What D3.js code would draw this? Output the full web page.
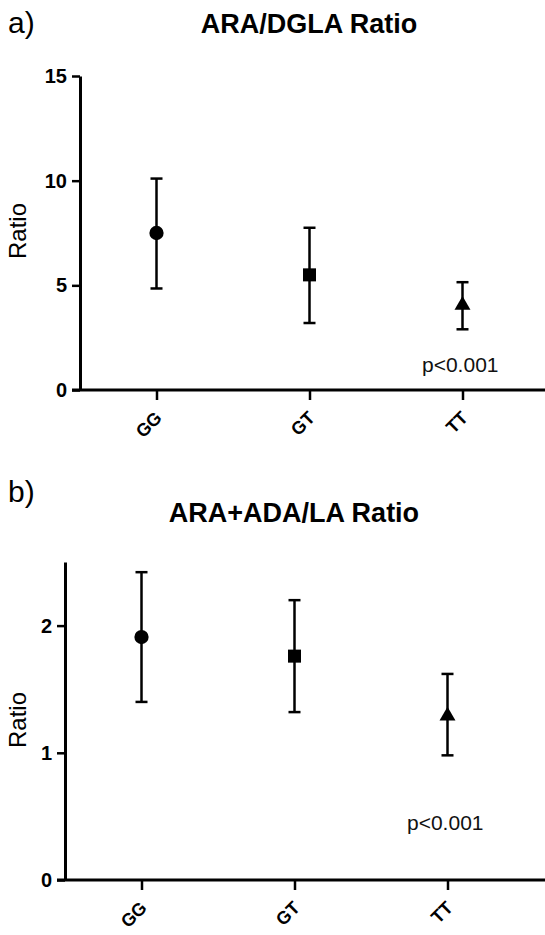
<!DOCTYPE html>
<html><head><meta charset="utf-8">
<script src="https://cdn.jsdelivr.net/npm/d3@7"></script>
<style>
html,body{margin:0;padding:0;background:#fff;}
svg{display:block;}
</style></head>
<body>
<svg id="c" width="545" height="935"></svg>
<script>
const categories = ["GG", "GT", "TT"];
const markers = ["circle", "square", "triangle"];
// Panel a: ARA/DGLA Ratio
const aMean  = [7.5, 5.5, 4.05];
const aUpper = [10.1, 7.75, 5.15];
const aLower = [4.85, 3.2, 2.9];
const aTicks = [0, 5, 10, 15];
// Panel b: ARA+ADA/LA Ratio
const bMean  = [1.91, 1.76, 1.29];
const bUpper = [2.42, 2.20, 1.62];
const bLower = [1.40, 1.32, 0.98];
const bTicks = [0, 1, 2];
const pText = "p<0.001";

const svg = d3.select("#c");
const FONT = "'Liberation Sans', Arial, Helvetica, sans-serif";

function panel(o) {
  const g = svg.append("g");
  const y = d3.scaleLinear().domain([0, o.ymax]).range([o.y0, o.ytop]);
  const x = d3.scalePoint().domain(categories).range([o.x0, o.x0 + 459]).padding(0.5);

  g.append("text").attr("x", 8).attr("y", o.letterY).text(o.letter)
    .attr("font-family", FONT).attr("font-size", 30).attr("fill", "#000");
  g.append("text").attr("x", o.x0 + 229).attr("y", o.titleY).text(o.title)
    .attr("text-anchor", "middle").attr("font-family", FONT).attr("font-weight", "bold")
    .attr("font-size", 27).attr("fill", "#000");

  const ya = g.append("g").attr("transform", `translate(${o.x0},0)`)
    .call(d3.axisLeft(y).tickValues(o.ticks).tickFormat(d3.format("d")).tickSize(8).tickSizeOuter(0).tickPadding(5));
  ya.select(".domain").attr("stroke-width", 3).attr("stroke", "#000");
  ya.selectAll(".tick line").attr("stroke-width", 2.5).attr("stroke", "#000");
  ya.selectAll(".tick text").attr("font-family", FONT).attr("font-weight", "bold")
    .attr("font-size", 20).attr("fill", "#000");

  const xa = g.append("g").attr("transform", `translate(0,${o.y0})`)
    .call(d3.axisBottom(x).tickSize(10).tickSizeOuter(0));
  xa.select(".domain").remove();
  xa.selectAll(".tick line").attr("stroke-width", 2.5).attr("stroke", "#000");
  xa.selectAll(".tick text").attr("font-family", FONT).attr("font-weight", "bold")
    .attr("font-size", 18).attr("fill", "#000")
    .attr("text-anchor", "end").attr("dy", 0).attr("y", 0)
    .attr("transform", "translate(6,29) rotate(-45)");
  g.append("line").attr("x1", o.x0 - 8).attr("x2", 545).attr("y1", o.y0).attr("y2", o.y0)
    .attr("stroke", "#000").attr("stroke-width", 3);

  g.append("text").attr("transform", `translate(26,${o.ylabY}) rotate(-90)`)
    .attr("text-anchor", "middle").text("Ratio").attr("font-family", FONT)
    .attr("font-size", 24).attr("fill", "#000");

  const data = categories.map((c, i) => ({c, m: o.mean[i], hi: o.upper[i], lo: o.lower[i], mk: markers[i]}));
  const eb = g.selectAll(".eb").data(data).enter().append("g");
  eb.append("line").attr("x1", d => x(d.c)).attr("x2", d => x(d.c))
    .attr("y1", d => y(d.hi)).attr("y2", d => y(d.lo)).attr("stroke", "#000").attr("stroke-width", 2.5);
  eb.append("line").attr("x1", d => x(d.c) - 6).attr("x2", d => x(d.c) + 6)
    .attr("y1", d => y(d.hi)).attr("y2", d => y(d.hi)).attr("stroke", "#000").attr("stroke-width", 2.5);
  eb.append("line").attr("x1", d => x(d.c) - 6).attr("x2", d => x(d.c) + 6)
    .attr("y1", d => y(d.lo)).attr("y2", d => y(d.lo)).attr("stroke", "#000").attr("stroke-width", 2.5);
  const sym = {circle: d3.symbolCircle, square: d3.symbolSquare, triangle: d3.symbolTriangle};
  const sz = {circle: 160, square: 170, triangle: 110};
  eb.append("path").attr("transform", d => `translate(${x(d.c)},${y(d.m)})`)
    .attr("d", d => d3.symbol().type(sym[d.mk]).size(sz[d.mk])())
    .attr("fill", "#000");

  g.append("text").attr("x", o.pX).attr("y", o.pY).text(pText)
    .attr("font-family", FONT).attr("font-size", 21).attr("fill", "#111");
}

panel({letter: "a)", letterY: 33, title: "ARA/DGLA Ratio", titleY: 33,
  x0: 80, y0: 390, ytop: 76, ymax: 15, ticks: aTicks,
  mean: aMean, upper: aUpper, lower: aLower, ylabY: 231, pX: 422, pY: 372});
panel({letter: "b)", letterY: 502, title: "ARA+ADA/LA Ratio", titleY: 522,
  x0: 65, y0: 880, ytop: 562, ymax: 2.5, ticks: bTicks,
  mean: bMean, upper: bUpper, lower: bLower, ylabY: 720, pX: 407, pY: 830});
</script>
</body></html>
